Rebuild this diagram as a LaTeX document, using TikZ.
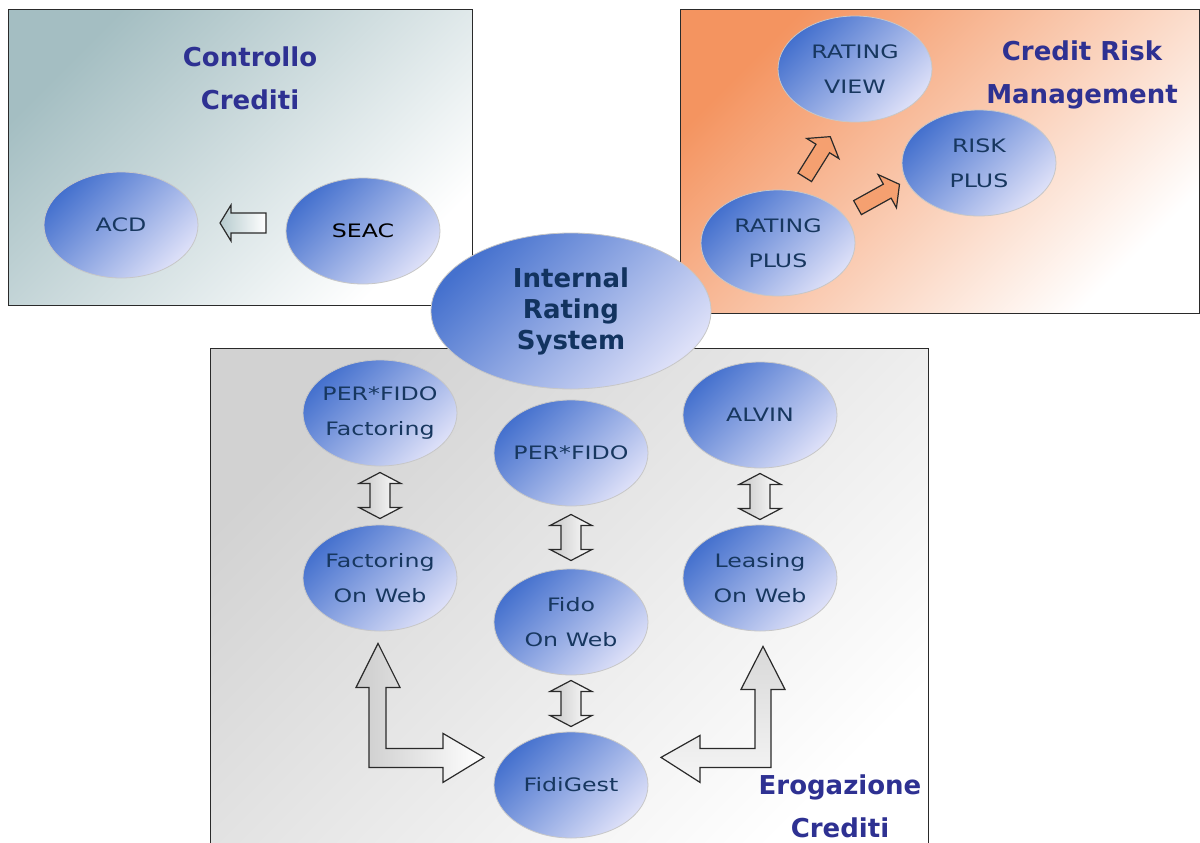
\documentclass[tikz,border=0pt]{standalone}
\usepackage{fontspec}
\setmainfont{DejaVu Sans}
\newfontfamily\lblfont[FakeStretch=1.28]{DejaVu Sans}
\usetikzlibrary{positioning,calc,shapes.geometric}
\definecolor{titleblue}{HTML}{2E3192}
\definecolor{irsnavy}{HTML}{12335F}
\definecolor{labelnavy}{HTML}{17375F}
\definecolor{ellipsedark}{HTML}{4571CE}
\definecolor{ellipselight}{HTML}{DDE0F8}
\definecolor{tealbox}{HTML}{A4BEC2}
\definecolor{orangebox}{HTML}{F49460}
\definecolor{graybox}{HTML}{D2D2D2}
\definecolor{orangearrow}{HTML}{F5A070}
\definecolor{edge}{HTML}{2A2A2A}
\tikzset{
  area/.style={draw=edge,line width=1pt},
  sysnode/.style={ellipse,draw=black!22,line width=0.8pt,inner sep=0pt,inner xsep=-10pt,
    minimum width=154pt,minimum height=106pt,align=center,text=labelnavy,
    top color=ellipsedark,bottom color=ellipselight,shading angle=45,
    font=\lblfont\fontsize{18.5}{35}\selectfont},
  irsnode/.style={sysnode,minimum width=280pt,minimum height=156pt,text=irsnavy,
    font=\bfseries\fontsize{26}{31}\selectfont},
  title/.style={align=center,text=titleblue,font=\bfseries\fontsize{26}{43}\selectfont},
  blockarr/.style={draw=edge,line width=1.2pt,line join=miter},
  vdbl/.pic={\draw[blockarr,left color=black!22,right color=white]
    (0,-23) -- (21,-12) -- (10,-12) -- (10,12) -- (21,12) -- (0,23)
    -- (-21,12) -- (-10,12) -- (-10,-12) -- (-21,-12) -- cycle;},
  harr/.pic={\draw[blockarr,left color=tealbox!80,right color=white]
    (23,-10) -- (-12,-10) -- (-12,-18) -- (-23,0) -- (-12,18) -- (-12,10) -- (23,10) -- cycle;},
  orarrow/.pic={\draw[blockarr,fill=orangearrow]
    (-24,-8) -- (10,-8) -- (10,-19) -- (24,0) -- (10,19) -- (10,8) -- (-24,8) -- cycle;}
}
\begin{document}
\begin{tikzpicture}[x=1pt,y=-1pt]
\useasboundingbox (0,0) rectangle (1200,843);
\clip (0,0) rectangle (1200,843);
\fill[white] (0,0) rectangle (1200,843);
% three areas
\draw[area,top color=tealbox,bottom color=white,shading angle=45] (8,10) rectangle (472,305);
\draw[area,top color=orangebox,bottom color=white,shading angle=45] (680,10) rectangle (1199,313);
\draw[area,top color=graybox,bottom color=white,shading angle=45] (210,348) rectangle (928,870);
\node[title] (controllo) at (250,78) {Controllo\\Crediti};
\node[title] (crm) at (1082,75) {Credit Risk\\Management};
\node[title] (erogazione) at (840,806) {Erogazione\\Crediti};
% controllo crediti
\node[sysnode] (acd) at (121,225) {ACD};
\node[sysnode,text=black] (seac) at (363,231) {SEAC};
\pic at ($(acd.east)!0.5!(seac.west)+(1,-5)$) {harr};
% credit risk management
\node[sysnode] (ratingview) at (855,69) {RATING\\VIEW};
\node[sysnode] (riskplus) at (979,163) {RISK\\PLUS};
\node[sysnode] (ratingplus) at (778,243) {RATING\\PLUS};
\pic[rotate=58] at ($(ratingplus)!0.5!(ratingview)+(1,1)$) {orarrow};
\pic[rotate=29] at ($(ratingplus)!0.5!(riskplus)+(0,-7)$) {orarrow};
% centre
\node[irsnode] (irs) at (571,311) {Internal\\Rating\\System};
% erogazione crediti
\node[sysnode] (perfidofact) at (380,413) {PER*FIDO\\Factoring};
\node[sysnode] (factweb) at (380,578) {Factoring\\On Web};
\node[sysnode] (perfido) at (571,453) {PER*FIDO};
\node[sysnode] (fidoweb) at (571,622) {Fido\\On Web};
\node[sysnode] (fidigest) at (571,785) {FidiGest};
\node[sysnode] (alvin) at (760,415) {ALVIN};
\node[sysnode] (leasweb) at (760,578) {Leasing\\On Web};
\pic at ($(perfidofact.south)!0.5!(factweb.north)$) {vdbl};
\pic at ($(perfido.south)!0.5!(fidoweb.north)$) {vdbl};
\pic at ($(alvin.south)!0.5!(leasweb.north)$) {vdbl};
\pic at ($(fidoweb.south)!0.5!(fidigest.north)$) {vdbl};
\coordinate (lftip) at ($(factweb.south)+(-2,12)$);
\coordinate (rgtip) at ($(leasweb.south)+(3,15)$);
\draw[blockarr,left color=black!20,right color=white] (lftip) -- ++(22,44) -- ++(-14,0)
  -- ++(0,61) -- ++(57,0) -- ++(0,-15) -- ++(41,24) -- ++(-41,25) -- ++(0,-15)
  -- ++(-74,0) -- ++(0,-80) -- ++(-13,0) -- cycle;
\draw[blockarr,top color=black!15,bottom color=black!4] (rgtip) -- ++(22,43) -- ++(-14,0)
  -- ++(0,78) -- ++(-71,0) -- ++(0,15) -- ++(-39,-25) -- ++(39,-22) -- ++(0,13)
  -- ++(55,0) -- ++(0,-59) -- ++(-14,0) -- cycle;
\end{tikzpicture}
\end{document}
